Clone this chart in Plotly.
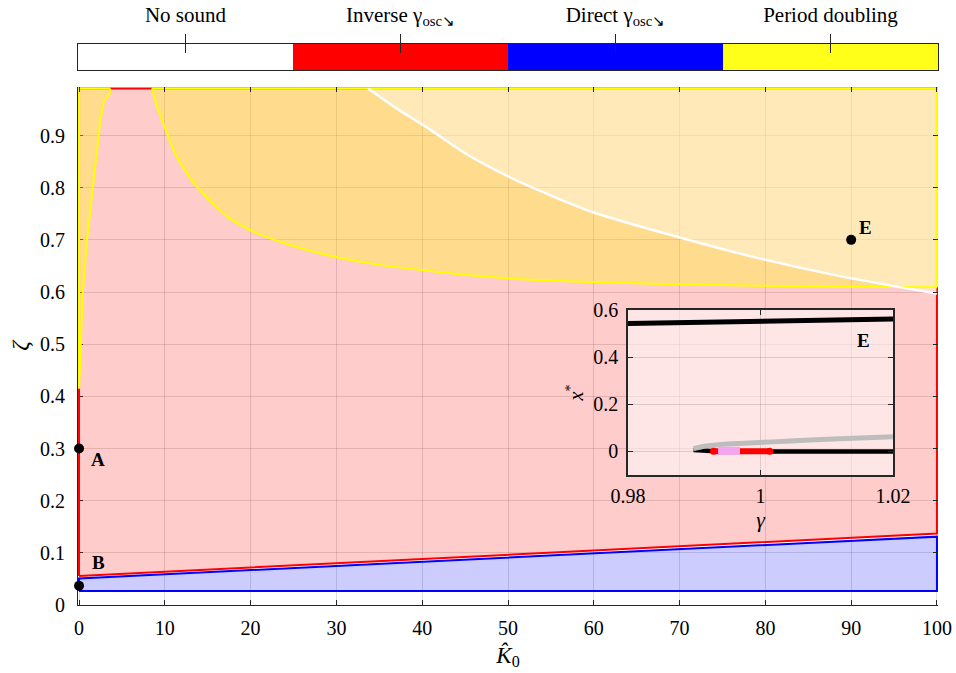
import plotly.graph_objects as go

# ---------------- data ----------------
# colour-bar categories
cat_labels = ["No sound", "Inverse γ<sub>osc↘</sub>", "Direct γ<sub>osc↘</sub>", "Period doubling"]
cat_colors = ["#ffffff", "#ff0000", "#0000ff", "#ffff1a"]
cat_index = [0, 1, 2, 3]

# red region (inverse) lower boundary
red_K = [0, 100]
red_low = [0.0556, 0.137]
zeta_top = 0.99

# blue region (direct)
blue_K = [0, 100, 100, 0]
blue_z = [0.027, 0.027, 0.131, 0.051]

# period-doubling sliver near K=0
pd1_K = [0, 0.43, 0.93, 1.59, 2.09, 2.48, 2.94, 3.52, 3.64]
pd1_z = [0.415, 0.597, 0.699, 0.795, 0.872, 0.929, 0.967, 0.977, 0.99]

# large period-doubling region boundary
pd2_K = [8.5, 9.0, 9.9, 11.1, 13.0, 15.0, 17.3, 20.0, 23.5, 27.4, 30.5, 35.0, 39.9,
         45.0, 50.2, 55.0, 59.9, 69.7, 79.4, 89.1, 100]
pd2_z = [0.99, 0.96, 0.92, 0.868, 0.817, 0.779, 0.744, 0.718, 0.696, 0.677, 0.665,
         0.652, 0.642, 0.633, 0.626, 0.622, 0.619, 0.615, 0.612, 0.610, 0.609]

# white boundary curve
wh_K = [33.7, 37.0, 40.4, 45.0, 50.2, 55.0, 59.9, 69.7, 79.4, 89.1, 100]
wh_z = [0.99, 0.952, 0.917, 0.866, 0.820, 0.785, 0.753, 0.706, 0.664, 0.629, 0.597]

# labelled points
pt_K = [0, 0, 90]
pt_z = [0.3, 0.037, 0.7]
pt_lab = ["A", "B", "E"]
pt_dx = [19, 19, 14]
pt_dy = [-11, 23, 12]

# inset (bifurcation diagram at E)
up_g = [0.98, 1.02]
up_x = [0.543, 0.562]
gr_g = [0.9899, 0.9915, 0.9940, 0.9969, 1.0045, 1.0120, 1.0200]
gr_x = [0.012, 0.022, 0.029, 0.034, 0.044, 0.054, 0.062]
lo_g = [0.9899, 0.9925, 1.0016, 1.0200]
lo_x = [0.006, 0.002, 0.0, 0.0]
rd_g = [0.9929, 1.0014]
rd_x = [0.001, 0.001]
pk_g = [0.9936, 0.9969]
pk_x = [0.003, 0.003]
inset_lab_g, inset_lab_x = 1.0155, 0.47

Krange = [-0.12, 100.12]
Zrange = [0, 0.993]
Grange = [0.98, 1.02]
Xrange = [-0.1, 0.6]

FONT = "Liberation Serif"
TICK = "#262626"
GRID = "rgba(0,0,0,0.13)"

fig = go.Figure()

# pink region
fig.add_trace(go.Scatter(
    x=[red_K[0], red_K[1], red_K[1], red_K[0], red_K[0]],
    y=[red_low[0], red_low[1], zeta_top, zeta_top, red_low[0]],
    fill="toself", fillcolor="rgba(255,0,0,0.2)", mode="lines",
    line=dict(color="#ff0000", width=2), hoverinfo="skip", showlegend=False))
# blue region
fig.add_trace(go.Scatter(
    x=blue_K + [blue_K[0]], y=blue_z + [blue_z[0]],
    fill="toself", fillcolor="rgba(0,0,255,0.2)", mode="lines",
    line=dict(color="#0000ff", width=2), hoverinfo="skip", showlegend=False))
# yellow sliver
y1x = pd1_K + [0, 0]
y1y = pd1_z + [zeta_top, pd1_z[0]]
fig.add_trace(go.Scatter(x=y1x, y=y1y, fill="toself", fillcolor="rgba(255,255,0,0.3)",
                         mode="none", hoverinfo="skip", showlegend=False))
# yellow big
y2x = pd2_K + [100, pd2_K[0]]
y2y = pd2_z + [zeta_top, zeta_top]
fig.add_trace(go.Scatter(x=y2x, y=y2y, fill="toself", fillcolor="rgba(255,255,0,0.3)",
                         mode="none", hoverinfo="skip", showlegend=False))
# white overlay region
wx = wh_K + [100, wh_K[0]]
wy = wh_z + [zeta_top, zeta_top]
fig.add_trace(go.Scatter(x=wx, y=wy, fill="toself", fillcolor="rgba(255,255,255,0.38)",
                         mode="none", hoverinfo="skip", showlegend=False))
# yellow outlines
fig.add_trace(go.Scatter(x=pd1_K, y=pd1_z, mode="lines", line=dict(color="#ffff00", width=2),
                         hoverinfo="skip", showlegend=False))
fig.add_trace(go.Scatter(x=[pd1_K[-1], 0, 0], y=[zeta_top, zeta_top, pd1_z[0]], mode="lines",
                         line=dict(color="#ffff00", width=2), hoverinfo="skip", showlegend=False))
fig.add_trace(go.Scatter(x=pd2_K, y=pd2_z, mode="lines",
                         line=dict(color="#ffff00", width=2, shape="spline", smoothing=0.6),
                         hoverinfo="skip", showlegend=False))
fig.add_trace(go.Scatter(x=[100, 100, pd2_K[0]], y=[pd2_z[-1], zeta_top, zeta_top], mode="lines",
                         line=dict(color="#ffff00", width=2), hoverinfo="skip", showlegend=False))
# white curve
fig.add_trace(go.Scatter(x=wh_K, y=wh_z, mode="lines",
                         line=dict(color="#ffffff", width=2.5, shape="spline", smoothing=0.8),
                         hoverinfo="skip", showlegend=False))
# points
fig.add_trace(go.Scatter(x=pt_K, y=pt_z, mode="markers", cliponaxis=False,
                         marker=dict(color="black", size=10), hoverinfo="skip", showlegend=False))
annotations = []
for k, z, t, dx, dy in zip(pt_K, pt_z, pt_lab, pt_dx, pt_dy):
    annotations.append(dict(x=k, y=z, xref="x", yref="y", text="<b>%s</b>" % t,
                            showarrow=False, xshift=dx, yshift=dy,
                            font=dict(family=FONT, size=19, color="black")))

# dummy for mirrored inside ticks of main axes
fig.add_trace(go.Scatter(x=[50], y=[0.5], xaxis="x4", yaxis="y4", mode="markers",
                         marker=dict(opacity=0), hoverinfo="skip", showlegend=False))

# ---------- inset ----------
fig.add_trace(go.Scatter(x=up_g, y=up_x, xaxis="x2", yaxis="y2", mode="lines",
                         line=dict(color="black", width=5), hoverinfo="skip", showlegend=False))
fig.add_trace(go.Scatter(x=lo_g, y=lo_x, xaxis="x2", yaxis="y2", mode="lines",
                         line=dict(color="black", width=4.5), hoverinfo="skip", showlegend=False))
fig.add_trace(go.Scatter(x=gr_g, y=gr_x, xaxis="x2", yaxis="y2", mode="lines",
                         line=dict(color="#bdbdbd", width=5, shape="spline"),
                         hoverinfo="skip", showlegend=False))
fig.add_trace(go.Scatter(x=rd_g, y=rd_x, xaxis="x2", yaxis="y2", mode="lines+markers",
                         line=dict(color="#ff0000", width=6), marker=dict(color="#ff0000", size=7),
                         hoverinfo="skip", showlegend=False))
fig.add_trace(go.Scatter(x=pk_g, y=pk_x, xaxis="x2", yaxis="y2", mode="lines",
                         line=dict(color="#f2a6f2", width=8), hoverinfo="skip", showlegend=False))
annotations.append(dict(x=inset_lab_g, y=inset_lab_x, xref="x2", yref="y2", text="<b>E</b>",
                        showarrow=False, font=dict(family=FONT, size=19, color="black")))

# ---------- colour bar ----------
fig.add_trace(go.Heatmap(z=[cat_index], x=cat_index, y=[0], xaxis="x3", yaxis="y3",
                         colorscale=[[0, cat_colors[0]], [0.25, cat_colors[0]],
                                     [0.25, cat_colors[1]], [0.5, cat_colors[1]],
                                     [0.5, cat_colors[2]], [0.75, cat_colors[2]],
                                     [0.75, cat_colors[3]], [1, cat_colors[3]]],
                         zmin=0, zmax=3, showscale=False, hoverinfo="skip"))
fig.add_trace(go.Scatter(x=[1], y=[0], xaxis="x5", yaxis="y3", mode="markers",
                         marker=dict(opacity=0), hoverinfo="skip", showlegend=False))

xdom = [78 / 956, 938 / 956]
ydom = [(673 - 605) / 673, (673 - 87) / 673]
ax_font = dict(family=FONT, size=20, color="black")

fig.update_layout(
    width=956, height=673, margin=dict(l=0, r=0, t=0, b=0, autoexpand=False),
    paper_bgcolor="white", plot_bgcolor="rgba(0,0,0,0)",
    font=dict(family=FONT, size=20, color="black"),
    xaxis=dict(domain=xdom, range=Krange, anchor="y", tickvals=list(range(0, 101, 10)),
               showgrid=True, gridcolor=GRID, zeroline=False, showline=True, automargin=False,
               linecolor=TICK, linewidth=1, ticks="inside", ticklen=5, tickcolor=TICK,
               layer="below traces", tickfont=ax_font, ticklabelstandoff=5,
               title=dict(text="<i>K\u0302</i><sub>0</sub>", font=dict(family=FONT, size=23),
                          standoff=8)),
    yaxis=dict(domain=ydom, range=Zrange, anchor="x", automargin=False,
               tickvals=[0, 0.1, 0.2, 0.3, 0.4, 0.5, 0.6, 0.7, 0.8, 0.9],
               ticktext=["0", "0.1", "0.2", "0.3", "0.4", "0.5", "0.6", "0.7", "0.8", "0.9"],
               showgrid=True, gridcolor=GRID, zeroline=False, showline=True,
               linecolor=TICK, linewidth=1, ticks="inside", ticklen=5, tickcolor=TICK,
               layer="below traces", tickfont=ax_font, ticklabelstandoff=8,
               title=dict(text="<i>ζ</i>", font=dict(family=FONT, size=24), standoff=4)),
    xaxis4=dict(overlaying="x", anchor="y", side="top", range=Krange, automargin=False,
                tickvals=list(range(0, 101, 10)), ticks="inside", ticklen=5, tickcolor=TICK,
                showticklabels=False, showgrid=False, zeroline=False, showline=False),
    yaxis4=dict(overlaying="y", anchor="x", side="right", range=Zrange, automargin=False,
                tickvals=[0, 0.1, 0.2, 0.3, 0.4, 0.5, 0.6, 0.7, 0.8, 0.9], ticks="inside",
                ticklen=5, tickcolor=TICK, showticklabels=False, showgrid=False,
                zeroline=False, showline=False),
    xaxis2=dict(domain=[628 / 956, 893 / 956], range=Grange, anchor="y2", automargin=False,
                tickvals=[0.98, 1.0, 1.02], ticktext=["0.98", "1", "1.02"],
                showgrid=True, gridcolor=GRID, zeroline=False, showline=True, mirror="ticks",
                linecolor=TICK, linewidth=1.5, ticks="inside", ticklen=5, tickcolor=TICK,
                tickfont=ax_font, ticklabelstandoff=2,
                title=dict(text="<i>γ</i>", font=dict(family=FONT, size=22), standoff=0)),
    yaxis2=dict(domain=[(673 - 475) / 673, (673 - 310) / 673], range=Xrange, anchor="x2",
                automargin=False,
                tickvals=[0, 0.2, 0.4, 0.6], ticktext=["0", "0.2", "0.4", "0.6"],
                showgrid=True, gridcolor=GRID, zeroline=False, showline=True, mirror="ticks",
                linecolor=TICK, linewidth=1.5, ticks="inside", ticklen=5, tickcolor=TICK,
                tickfont=ax_font, ticklabelstandoff=4,
                title=dict(text="<i>x</i><sup>*</sup>", font=dict(family=FONT, size=20),
                           standoff=4)),
    xaxis3=dict(domain=xdom, range=[-0.5, 3.5], anchor="y3", side="top", automargin=False,
                tickvals=cat_index, ticktext=cat_labels, ticks="outside", ticklen=9,
                tickcolor=TICK, showgrid=False, zeroline=False, showline=True, mirror=True,
                linecolor=TICK, linewidth=1, tickfont=dict(family=FONT, size=21, color="black"),
                ticklabelstandoff=4),
    xaxis5=dict(overlaying="x3", anchor="y3", side="top", range=[-0.5, 3.5], automargin=False,
                tickvals=cat_index, ticks="inside", ticklen=9, tickcolor=TICK,
                showticklabels=False, showgrid=False, zeroline=False, showline=False),
    yaxis3=dict(domain=[(673 - 70) / 673, (673 - 44) / 673], range=[-0.5, 0.5], anchor="x3",
                showticklabels=False, ticks="", showgrid=False, zeroline=False, automargin=False,
                showline=True, mirror=True, linecolor=TICK, linewidth=1),
    shapes=[dict(type="rect", xref="x2", yref="y2", x0=Grange[0], x1=Grange[1],
                 y0=Xrange[0], y1=Xrange[1], fillcolor="rgba(255,255,255,0.5)",
                 line=dict(width=0), layer="below")],
    annotations=annotations,
)

fig.write_html("out.html")
